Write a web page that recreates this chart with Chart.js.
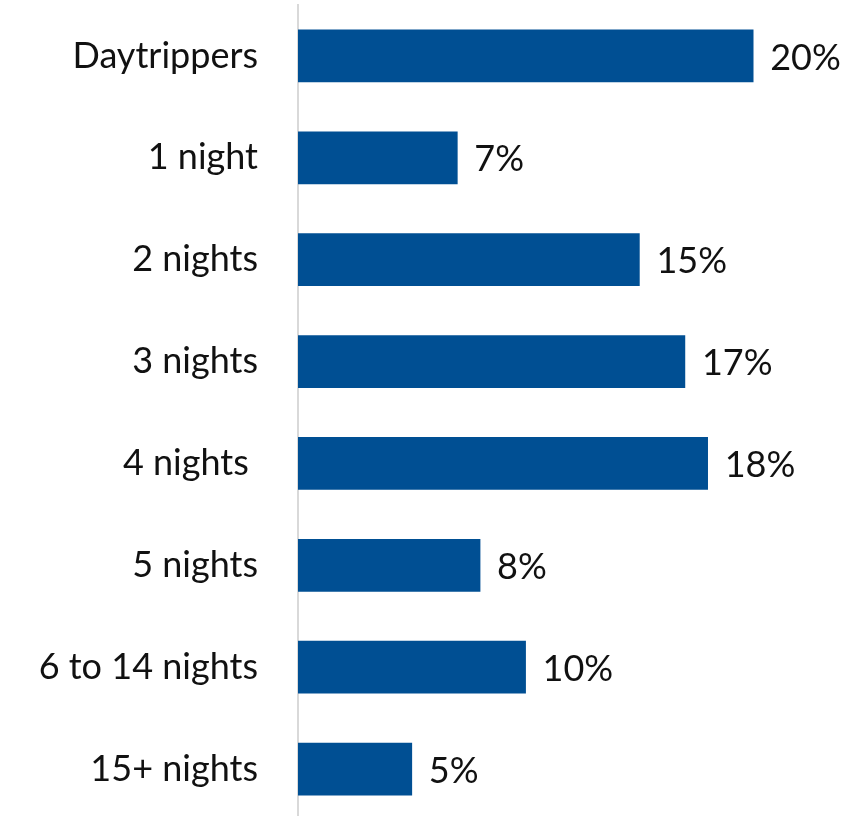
<!DOCTYPE html>
<html>
<head>
<meta charset="utf-8">
<script src="https://cdn.jsdelivr.net/npm/chart.js@4"></script>
<style>
  html, body { margin: 0; padding: 0; background: #fff; overflow: hidden; }
  #wrap { width: 859px; height: 820px; position: relative; }
</style>
</head>
<body>
<div id="wrap"><canvas id="stayChart"></canvas></div>
<script>
// Length of stay
const categories = ['Daytrippers', '1 night', '2 nights', '3 nights', '4 nights ', '5 nights', '6 to 14 nights', '15+ nights'];
const shares = [20, 7, 15, 17, 18, 8, 10, 5];

const FONT = 'Lato, "Open Sans", sans-serif';
const FONT_SIZE = 36;

// draws "NN%" right of each bar
const valueLabels = {
  id: 'valueLabels',
  afterDatasetsDraw(chart) {
    const ctx = chart.ctx;
    const meta = chart.getDatasetMeta(0);
    ctx.save();
    ctx.font = FONT_SIZE + 'px ' + FONT;
    ctx.fillStyle = '#111';
    ctx.textAlign = 'left';
    ctx.textBaseline = 'middle';
    meta.data.forEach((bar, i) => {
      ctx.fillText(shares[i] + '%', bar.x + 17, bar.y + 2);
    });
    ctx.restore();
  }
};

const ctx = document.getElementById('stayChart').getContext('2d');
new Chart(ctx, {
  type: 'bar',
  data: {
    labels: categories,
    datasets: [{
      data: shares,
      backgroundColor: '#004f93',
      barThickness: 52,
      categoryPercentage: 1
    }]
  },
  options: {
    indexAxis: 'y',
    responsive: true,
    maintainAspectRatio: false,
    animation: false,
    layout: { padding: { top: 5, right: 0, bottom: 0, left: 0 } },
    plugins: { legend: { display: false }, tooltip: { enabled: false } },
    scales: {
      x: {
        min: 0,
        max: 24.65,
        display: false
      },
      y: {
        afterFit(scale) {
          // tick padding would otherwise also pad top and bottom
          scale.width = 298;
          scale.paddingTop = 0;
          scale.paddingBottom = 0;
        },
        grid: { display: false, drawTicks: false },
        border: { display: true, color: '#d9d9d9', width: 2 },
        ticks: {
          color: '#111',
          padding: 40,
          font: { family: FONT, size: FONT_SIZE }
        }
      }
    }
  },
  plugins: [valueLabels]
});
</script>
</body>
</html>
